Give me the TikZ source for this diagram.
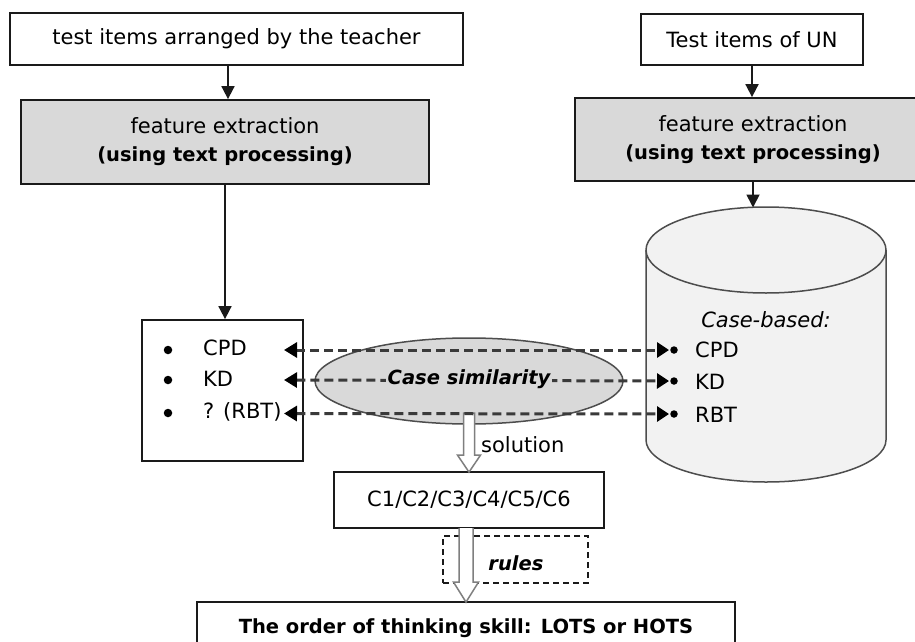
\documentclass[tikz,border=0pt]{standalone}
\usepackage{fontspec}
\setmainfont{DejaVu Sans}
\usetikzlibrary{arrows.meta,calc,shapes.geometric}
\definecolor{boxgray}{HTML}{D9D9D9}
\definecolor{cylfill}{HTML}{F2F2F2}
\definecolor{edgec}{HTML}{1A1A1A}
\definecolor{cyledge}{HTML}{4D4D4D}
\definecolor{dashc}{HTML}{3A3A3A}
\definecolor{hollowc}{HTML}{7F7F7F}
\begin{document}
\begin{tikzpicture}[x=1pt,y=-1pt,
  reg/.style={font=\fontsize{21}{25}\selectfont},
  bldit/.style={font=\fontsize{19.5}{24}\selectfont\bfseries\itshape},
  plainbox/.style={draw=edgec,line width=1.8pt,fill=white,inner sep=0pt},
  graybox/.style={draw=edgec,line width=1.8pt,fill=boxgray,inner sep=0pt,align=center},
  flow/.style={line width=1.8pt,draw=edgec,-{Triangle[length=13pt,width=13pt]}},
  simline/.style={draw=dashc,line width=3pt,dash pattern=on 9pt off 5pt,
    {Triangle[length=13pt,width=15pt,color=black]}-{Triangle[length=12pt,width=15pt,color=black]}},
  hollow/.style={draw=hollowc,fill=white,line width=1.5pt,line join=miter},
  bul/.style={circle,fill=black,inner sep=0pt,minimum size=8.5pt},
  dot/.style={circle,fill=black,inner sep=0pt,minimum size=7.5pt},
  item/.style={reg,anchor=west,inner sep=0pt}]
\useasboundingbox (0,0) rectangle (915,642);
\clip (0,0) rectangle (915,642);
\fill[white] (0,0) rectangle (915,642);

% left column
\node[plainbox,reg,minimum width=453pt,minimum height=52pt] (t1) at (236.5,39) {test items arranged by the teacher};
\node[graybox,reg,minimum width=408pt,minimum height=84pt] (fe1) at (225,142)
  {feature extraction\\[3pt]{\fontsize{19.5}{24}\selectfont\bfseries (using text processing)}};
\node[plainbox,minimum width=161pt,minimum height=141pt] (items) at (222.5,390.5) {};

% right column
\node[plainbox,reg,minimum width=222pt,minimum height=51pt] (u1) at (752,39.5) {Test items of UN};
\node[graybox,reg,minimum width=356pt,minimum height=83pt] (fe2) at (753,139.5)
  {feature extraction\\[3pt]{\fontsize{19.5}{24}\selectfont\bfseries (using text processing)}};

% cylinder
\fill[cylfill] (646,250) rectangle (886,440);
\fill[cylfill] (646,440) .. controls (646,463.2) and (699.7,482) .. (766,482)
  .. controls (832.3,482) and (886,463.2) .. (886,440) -- cycle;
\draw[cyledge,line width=1.5pt] (646,250) -- (646,440) .. controls (646,463.2) and (699.7,482) .. (766,482)
  .. controls (832.3,482) and (886,463.2) .. (886,440) -- (886,250);
\draw[cyledge,line width=1.5pt,fill=cylfill] (766,250) ellipse [x radius=120, y radius=43];
\coordinate (cyltop) at (753,207.5);
\node[reg,font=\fontsize{21}{25}\selectfont\itshape] (cb) at (766,320) {Case-based:};

% flow arrows
\draw[flow] ([xshift=-8.5pt]t1.south) -- ([xshift=-8.5pt]t1.south |- fe1.north);
\draw[flow] (fe1.south) -- (fe1.south |- items.north);
\draw[flow] (u1.south) -- (u1.south |- fe2.north);
\draw[flow] (fe2.south) -- (cyltop);

% left items
\node[bul] (b1) at (168,350) {};
\node[bul] (b2) at (168,380) {};
\node[bul] (b3) at (168,413) {};
\node[item] (l1) at (203,348) {CPD};
\node[item] (l2) at (203,379) {KD};
\node[item] (l3) at (203,412) {? (RBT)};

% right items
\node[dot] (d1) at (674,350) {};
\node[dot] (d2) at (674,381) {};
\node[dot] (d3) at (674,414) {};
\node[item] (r1) at (695,350) {CPD};
\node[item] (r2) at (695,382) {KD};
\node[item] (r3) at (695,415) {RBT};

% similarity ellipse
\node[ellipse,draw=cyledge,line width=1.5pt,fill=boxgray,minimum width=308pt,minimum height=86pt,inner sep=0pt] (sim) at (469,381) {};

% hollow arrow 1 (solution)
\node[plainbox,reg,inner sep=0pt,minimum width=270pt,minimum height=56pt] (cbox) at (469,500) {C1/C2/C3/C4/C5/C6};
\coordinate (h1) at (469,413);
\draw[hollow] ($(h1)+(-5.5,0)$) -- ($(cbox.north)+(-5.5,-16)$) -- ($(cbox.north)+(-11.5,-16)$)
  -- ([yshift=-1pt]cbox.north) -- ($(cbox.north)+(11.5,-16)$) -- ($(cbox.north)+(5.5,-16)$)
  -- ($(h1)+(5.5,0)$) -- cycle;
\node[reg,anchor=west,inner sep=0pt] (sol) at (481,445) {solution};

% dashed similarity connectors
\coordinate (la) at (284,350);
\coordinate (lb) at (284,380);
\coordinate (lc) at (284,413.5);
\coordinate (ra) at (669,350);
\coordinate (rb) at (669,381);
\coordinate (rc) at (669,414);
\draw[simline] (la) -- (ra);
\draw[simline] (lb) -- (rb);
\draw[simline] (lc) -- (rc);
\node[bldit,fill=boxgray,inner sep=1.5pt] (simtxt) at (469,379) {Case similarity};

% rules and final
\node[draw=edgec,line width=1.5pt,dash pattern=on 6pt off 4pt,minimum width=145pt,minimum height=47pt,inner sep=0pt] (rules) at (515.5,559.5) {};
\node[bldit,inner sep=0pt] (rulestxt) at (516,563) {rules};
\node[plainbox,minimum width=538pt,minimum height=52pt] (final) at (466,628)
  {\fontsize{19.5}{24}\selectfont\bfseries The order of thinking skill: LOTS or HOTS};
\coordinate (h2) at (466,528);
\draw[hollow] ($(h2)+(-7,0)$) -- ($(final.north)+(-7,-19)$) -- ($(final.north)+(-12.5,-19)$)
  -- ([yshift=-1pt]final.north) -- ($(final.north)+(12.5,-19)$) -- ($(final.north)+(7,-19)$)
  -- ($(h2)+(7,0)$);
\end{tikzpicture}
\end{document}
